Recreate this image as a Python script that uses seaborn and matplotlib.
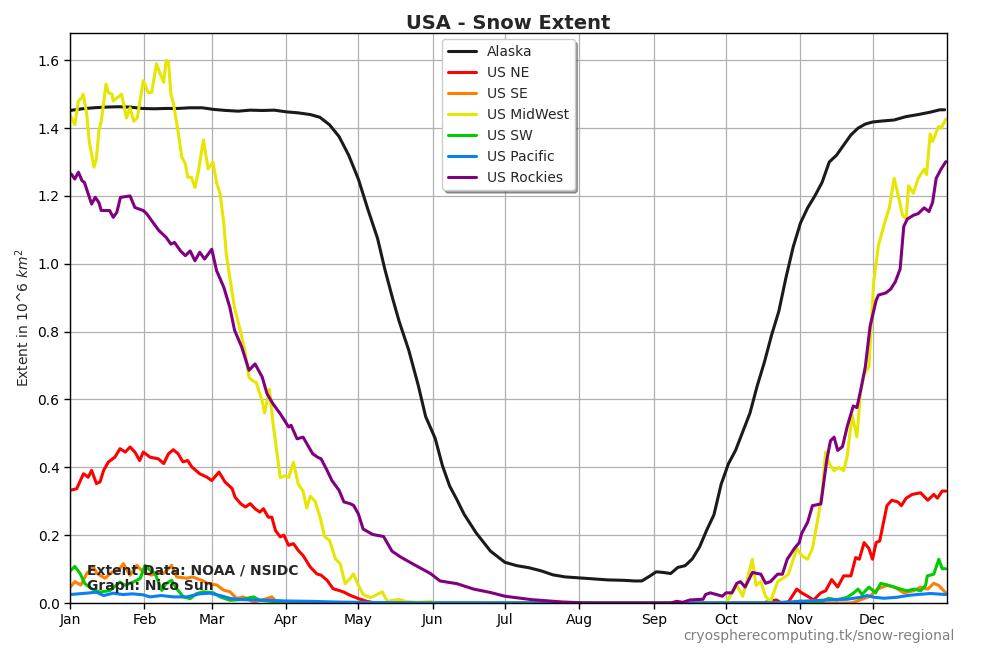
import matplotlib
matplotlib.use("Agg")
import matplotlib.pyplot as plt
import seaborn as sns
import pandas as pd

# ---------------- data (day of year, extent in 10^6 km^2) ----------------
alaska_day = [0, 5, 10, 15, 20, 25, 30, 35, 40, 45, 50, 55, 60, 65, 70, 75, 80, 85, 90, 95, 100, 104, 108, 112, 116,
              120, 124, 128, 131, 134, 137, 141, 145, 148, 152, 155, 158, 161, 164, 169, 175, 181, 186, 191, 196, 201,
              206, 212, 218, 224, 230, 235, 238, 241, 244, 247, 250, 253, 256, 259, 262, 265, 268, 271, 274, 277, 280,
              283, 286, 289, 292, 295, 298, 301, 304, 307, 310, 313, 316, 319, 322, 325, 328, 331, 334, 338, 343, 348,
              353, 358, 362, 364]
alaska_val = [1.452, 1.457, 1.460, 1.462, 1.463, 1.462, 1.458, 1.457, 1.458, 1.458, 1.460, 1.460, 1.455, 1.452, 1.450,
              1.453, 1.452, 1.453, 1.448, 1.445, 1.440, 1.432, 1.410, 1.375, 1.320, 1.250, 1.160, 1.075, 0.985, 0.905,
              0.830, 0.745, 0.640, 0.550, 0.485, 0.405, 0.345, 0.305, 0.262, 0.207, 0.153, 0.120, 0.110, 0.104, 0.095,
              0.083, 0.077, 0.074, 0.071, 0.068, 0.067, 0.065, 0.065, 0.078, 0.092, 0.090, 0.087, 0.105, 0.110, 0.130,
              0.165, 0.215, 0.260, 0.350, 0.410, 0.450, 0.505, 0.560, 0.640, 0.710, 0.790, 0.860, 0.960, 1.050, 1.120,
              1.165, 1.200, 1.240, 1.300, 1.320, 1.350, 1.380, 1.400, 1.412, 1.418, 1.421, 1.424, 1.434, 1.440, 1.447,
              1.454, 1.454]

ne_day = [0, 2.8, 5.6, 7.6, 9, 11, 12.5, 14, 16, 18.7, 20.8, 23, 25, 27, 29, 30.5, 33.3, 36.8, 39, 41, 43, 45, 47, 49,
          50.7, 54, 57, 59, 62, 64.5, 67.5, 68.7, 71, 73, 75, 77, 79, 80.5, 82.5, 84, 85.5, 87.5, 89, 91, 93, 95, 97,
          100, 102.7, 104.5, 107, 109.5, 112, 114, 116.5, 120, 123.5, 127, 288, 294, 296, 299, 302.5, 304.5, 307, 309.5,
          312.5, 314.5, 317, 319.5, 322, 325, 327, 328.5, 330.5, 332.5, 334, 335.5, 337, 340, 342, 344.5, 346, 348,
          350.5, 354, 357, 359.5, 361, 363, 364.5]
ne_val = [0.332, 0.337, 0.381, 0.371, 0.391, 0.352, 0.357, 0.391, 0.416, 0.430, 0.455, 0.445, 0.460, 0.445, 0.420,
          0.445, 0.430, 0.425, 0.411, 0.440, 0.452, 0.440, 0.416, 0.420, 0.401, 0.381, 0.371, 0.361, 0.386, 0.357,
          0.337, 0.312, 0.293, 0.283, 0.293, 0.278, 0.268, 0.278, 0.253, 0.253, 0.214, 0.195, 0.200, 0.170, 0.175,
          0.155, 0.140, 0.106, 0.086, 0.082, 0.067, 0.042, 0.037, 0.032, 0.023, 0.013, 0.005, 0.0, 0.0, 0.009, 0.0,
          0.003, 0.041, 0.030, 0.020, 0.009, 0.030, 0.036, 0.069, 0.047, 0.080, 0.080, 0.134, 0.129, 0.178, 0.161,
          0.129, 0.178, 0.183, 0.287, 0.303, 0.298, 0.287, 0.309, 0.320, 0.325, 0.303, 0.320, 0.309, 0.330, 0.330]

se_day = [0.3, 2, 4.5, 7, 9.6, 11.3, 14.6, 17.4, 20.2, 22.2, 25, 27.8, 29.8, 31.9, 34, 36.8, 38.9, 42.3, 44.4, 48.6, 51,
          54.8, 57.6, 61.1, 63.9, 66.6, 69.4, 72, 76.4, 80.5, 84, 86, 90, 325, 327, 333, 336, 340, 343, 347, 351, 354,
          357, 359.5, 361.5, 364.5]
se_val = [0.048, 0.063, 0.053, 0.087, 0.107, 0.087, 0.073, 0.091, 0.096, 0.116, 0.082, 0.111, 0.096, 0.087, 0.082,
          0.091, 0.087, 0.111, 0.077, 0.073, 0.077, 0.067, 0.057, 0.053, 0.038, 0.033, 0.013, 0.018, 0.003, 0.010,
          0.018, 0.003, 0.0, 0.0, 0.004, 0.020, 0.041, 0.052, 0.047, 0.030, 0.036, 0.047, 0.041, 0.058, 0.052, 0.030]

mw_day = [0, 2, 3.5, 5, 5.5, 7, 8, 10, 11, 12, 13, 15, 16, 17.5, 18, 21.5, 23.5, 25, 26.5, 28, 30.5, 32.5, 34, 36, 37.5,
          39, 40, 41, 42, 43, 45, 46.5, 48, 49, 50.5, 52, 53.5, 55.5, 57.5, 59.5, 61, 62.5, 64, 65, 66.5, 68.5, 71, 73,
          74.5, 76, 77.5, 80, 81, 83, 84.5, 87.5, 89.5, 91, 93, 95, 97, 98.5, 100, 102, 104, 106, 108, 110.5, 112.5,
          114.5, 116.5, 118, 120, 122, 125, 127, 130, 132, 137, 140, 145, 150, 153, 273, 275.5, 277.5, 280, 282, 284,
          285.5, 287.5, 289.5, 291.5, 294.5, 297, 299, 301.5, 302.5, 304.5, 307, 309, 311, 313, 314.5, 316, 318, 320,
          322, 323.5, 325.5, 327.5, 329, 330.5, 332.5, 334.5, 336.5, 339.5, 341, 343, 344.5, 346.5, 348, 349, 351, 353,
          355.5, 356.5, 358, 359, 361.5, 362.5, 364.5]
mw_val = [1.44, 1.41, 1.48, 1.49, 1.50, 1.44, 1.36, 1.285, 1.31, 1.39, 1.42, 1.53, 1.505, 1.50, 1.48, 1.50, 1.43, 1.46,
          1.42, 1.43, 1.54, 1.505, 1.505, 1.59, 1.56, 1.535, 1.60, 1.595, 1.50, 1.475, 1.39, 1.315, 1.295, 1.255, 1.255,
          1.225, 1.275, 1.365, 1.28, 1.30, 1.24, 1.205, 1.12, 1.03, 0.96, 0.87, 0.80, 0.735, 0.665, 0.655, 0.65,
          0.595, 0.56, 0.63, 0.53, 0.37, 0.375, 0.37, 0.415, 0.35, 0.33, 0.28, 0.315, 0.30, 0.255, 0.195, 0.185,
          0.13, 0.115, 0.057, 0.072, 0.086, 0.052, 0.025, 0.016, 0.022, 0.033, 0.005, 0.011, 0.004, 0.002, 0.004,
          0.0, 0.0, 0.03, 0.052, 0.02, 0.074, 0.129, 0.052, 0.063, 0.02, 0.003, 0.063, 0.074, 0.085, 0.14, 0.161,
          0.14, 0.129, 0.161, 0.238, 0.325, 0.445, 0.41, 0.39, 0.40, 0.39, 0.434, 0.554, 0.49, 0.62, 0.674, 0.696,
          0.947, 1.056, 1.132, 1.165, 1.252, 1.208, 1.143, 1.132, 1.23, 1.208, 1.252, 1.279, 1.263, 1.383, 1.361,
          1.405, 1.399, 1.426]

sw_day = [0.3, 2, 4.2, 6.2, 9, 12.5, 16.7, 20.8, 22.8, 26.4, 29.2, 31.2, 32.6, 35.4, 38.2, 40, 42.3, 44.4, 47.2, 50,
          52.8, 55.5, 59.7, 62.5, 66.6, 71, 76.4, 79, 85, 95, 300, 304, 308, 312.4, 315.8, 319, 323.5, 326.2, 328,
          329.6, 332.5, 335.3, 337.4, 340.8, 343, 345.7, 348.5, 351.2, 354, 356.1, 356.8, 359.5, 361.6, 363, 364.5]
sw_val = [0.096, 0.108, 0.087, 0.057, 0.042, 0.032, 0.037, 0.062, 0.052, 0.062, 0.072, 0.111, 0.101, 0.087, 0.037,
          0.057, 0.067, 0.042, 0.018, 0.013, 0.028, 0.033, 0.030, 0.018, 0.008, 0.010, 0.018, 0.008, 0.004, 0.0, 0.0,
          0.006, 0.0, 0.003, 0.014, 0.009, 0.017, 0.030, 0.041, 0.025, 0.047, 0.030, 0.058, 0.052, 0.047, 0.041,
          0.036, 0.041, 0.036, 0.052, 0.080, 0.085, 0.129, 0.101, 0.101]

pac_day = [0, 7, 11, 14, 18, 22, 26, 30.5, 33.3, 38, 43, 48.6, 54, 58.3, 62.5, 67, 72, 82, 90, 100, 110, 120, 135, 150,
           290, 299, 315, 323.5, 329, 331.8, 334.6, 338.7, 344.3, 348.5, 352.6, 358.2, 364.5]
pac_val = [0.025, 0.029, 0.032, 0.022, 0.029, 0.025, 0.027, 0.024, 0.018, 0.022, 0.018, 0.018, 0.027, 0.029, 0.022,
           0.013, 0.010, 0.008, 0.006, 0.005, 0.003, 0.002, 0.001, 0.0, 0.0, 0.003, 0.009, 0.011, 0.017, 0.022, 0.017,
           0.014, 0.017, 0.022, 0.025, 0.028, 0.025]

rock_day = [0.5, 2, 3.5, 5, 6, 9, 10.5, 12, 13, 16.5, 18, 19.5, 21, 25, 27, 30.5, 32, 34, 37, 40, 42, 43.5, 46, 48, 50,
            52, 54, 56, 59, 61, 64, 66.5, 68.5, 71.5, 74.5, 77, 80, 82, 84.5, 87.5, 91, 92, 94.5, 97, 101, 103, 104.5,
            107, 109, 112, 114, 116.5, 118, 120, 122, 126, 130.5, 134, 137.5, 143, 150, 154, 161, 168, 175, 181, 192,
            205, 215, 250, 252.5, 255, 258, 263.5, 264.5, 266.5, 271.5, 273, 275.5, 277.5, 279, 281, 284, 287.5, 289.5,
            291.5, 294.5, 296.5, 298.5, 301.5, 303.5, 304.5, 307, 309, 312.5, 315, 316.5, 318, 319.5, 321.5, 323.5, 326,
            327.5, 329, 331, 333, 335.5, 336.5, 339.5, 341.5, 343.5, 345.5, 347, 348.5, 351, 353, 355.5, 357.5, 359,
            360.5, 362.5, 364.5]
rock_val = [1.265, 1.25, 1.27, 1.245, 1.24, 1.176, 1.196, 1.181, 1.157, 1.157, 1.137, 1.152, 1.196, 1.20, 1.166, 1.157,
            1.147, 1.127, 1.098, 1.078, 1.058, 1.063, 1.038, 1.024, 1.038, 1.009, 1.034, 1.014, 1.043, 0.98, 0.931,
            0.872, 0.804, 0.754, 0.686, 0.705, 0.666, 0.617, 0.587, 0.558, 0.519, 0.524, 0.484, 0.489, 0.44, 0.43,
            0.425, 0.391, 0.361, 0.332, 0.298, 0.293, 0.288, 0.263, 0.218, 0.202, 0.196, 0.153, 0.136, 0.114, 0.087,
            0.065, 0.057, 0.041, 0.031, 0.02, 0.01, 0.003, 0.0, 0.0, 0.005, 0.002, 0.009, 0.011, 0.025, 0.03, 0.02,
            0.03, 0.03, 0.058, 0.063, 0.047, 0.09, 0.085, 0.058, 0.063, 0.085, 0.085, 0.129, 0.161, 0.178, 0.205,
            0.238, 0.287, 0.292, 0.423, 0.478, 0.489, 0.45, 0.461, 0.521, 0.581, 0.576, 0.625, 0.696, 0.816, 0.892,
            0.908, 0.914, 0.925, 0.947, 0.985, 1.11, 1.132, 1.143, 1.148, 1.165, 1.154, 1.181, 1.252, 1.279, 1.301]

series_names = ["Alaska", "US NE", "US SE", "US MidWest", "US SW", "US Pacific", "US Rockies"]
month_labels = ["Jan", "Feb", "Mar", "Apr", "May", "Jun", "Jul", "Aug", "Sep", "Oct", "Nov", "Dec"]
month_starts = [0, 31, 59, 90, 120, 151, 181, 212, 243, 273, 304, 334]

series_data = [(alaska_day, alaska_val), (ne_day, ne_val), (se_day, se_val), (mw_day, mw_val),
               (sw_day, sw_val), (pac_day, pac_val), (rock_day, rock_val)]
colors = ["#1a1a1a", "#ff0000", "#ff8000", "#e6e600", "#00cc00", "#0a7ff5", "#800080"]

# ---------------- plot ----------------
sns.set_theme(style="ticks")
plt.rcParams["font.family"] = ["DejaVu Sans"]

fig = plt.figure(figsize=(10, 6.5), dpi=100)
ax = fig.add_axes([0.07, 0.0723, 0.877, 0.8767])

for name, (d, v), c in zip(series_names, series_data, colors):
    df = pd.DataFrame({"day": d, "extent": v})
    sns.lineplot(data=df, x="day", y="extent", ax=ax, color=c, linewidth=2.2, label=name,
                 estimator=None, sort=False)

ax.set_xlim(0, 365)
ax.set_ylim(0, 1.68)
ax.set_xticks(month_starts)
ax.set_xticklabels(month_labels)
ax.set_yticks([0.0, 0.2, 0.4, 0.6, 0.8, 1.0, 1.2, 1.4, 1.6])
ax.tick_params(direction="out", length=4, width=1, labelsize=10, colors="black")
ax.grid(True, color="#b0b0b0", linewidth=0.9)
for s in ax.spines.values():
    s.set_visible(True)
    s.set_color("black")
    s.set_linewidth(1.0)

ax.set_xlabel("")
ax.set_ylabel("Extent in 10^6 $km^2$", fontsize=10)
ax.set_title("USA - Snow Extent", fontsize=14, fontweight="bold", pad=3)

leg = ax.legend(loc="upper center", shadow=True, fontsize=10, framealpha=1.0, fancybox=True,
                borderaxespad=0.45)
for line in leg.get_lines():
    line.set_linewidth(2.2)

ax.text(0.019, 0.017, "Extent Data: NOAA / NSIDC\nGraph: Nico Sun", transform=ax.transAxes,
        fontsize=10, fontweight="bold", va="bottom", ha="left", linespacing=1.2)
fig.text(0.955, 0.0215, "cryospherecomputing.tk/snow-regional", fontsize=10, color="gray",
         ha="right", va="center")

fig.savefig("out.png", dpi=100)
